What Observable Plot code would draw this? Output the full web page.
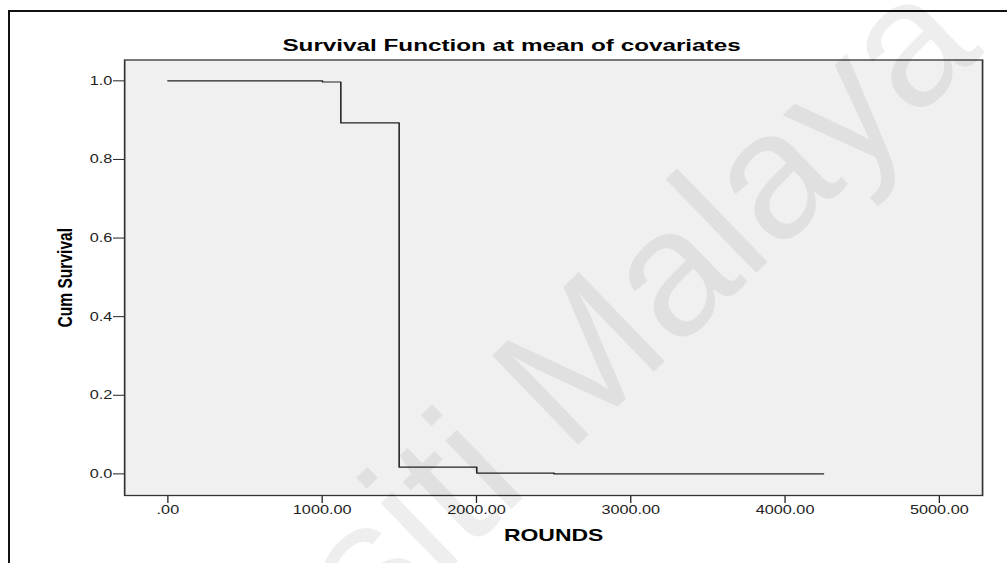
<!DOCTYPE html>
<html>
<head>
<meta charset="utf-8">
<script src="https://cdn.jsdelivr.net/npm/d3@7"></script>
<script src="https://cdn.jsdelivr.net/npm/@observablehq/plot@0.6"></script>
<style>
  body { margin: 0; background: #fff; }
  #chart { position: relative; width: 1007px; height: 563px; overflow: hidden;
           font-family: "Liberation Sans", Arial, sans-serif; }
  #chart svg.plot { position: absolute; left: 0; top: 0; }
  #border { position: absolute; left: 8px; top: 10px; width: 1100px; height: 700px;
            border-left: 2px solid #111; border-top: 2px solid #111; pointer-events: none; }
  #watermark { position: absolute; left: 0; top: 0; pointer-events: none; }
</style>
</head>
<body>
<div id="chart"><div id="border"></div></div>
<script>
// Survival estimate (Cox model, evaluated at mean of covariates)
const rounds       = [0, 1002, 1121, 1499, 2002, 2503, 4249];
const cumSurvival  = [1.0, 0.997, 0.893, 0.017, 0.002, 0.0, 0.0];

const xTicks = [0, 1000, 2000, 3000, 4000, 5000];
const yTicks = [0, 0.2, 0.4, 0.6, 0.8, 1.0];

const titleText = "Survival Function at mean of covariates";
const xLabel = "ROUNDS";
const yLabel = "Cum Survival";
const watermarkText = "Universiti Malaya";

const steps = rounds.map((r, i) => ({round: r, surv: cumSurvival[i]}));

// The chart is laid out in a narrower coordinate space and widened to the
// page width, giving the broad lettering of the exported figure.
const PAGE_W = 1007, H = 563;
const STRETCH = 1.3;
const W = PAGE_W / STRETCH;
const font = "'Liberation Sans', Arial, sans-serif";

const plot = Plot.plot({
  width: W,
  height: H,
  marginLeft: 95.4,
  marginRight: 19.3,
  marginTop: 59.5,
  marginBottom: 68,
  style: {background: "transparent", fontFamily: font, fontSize: "12.5px", color: "#222"},
  x: {
    domain: [-280, 5280],
    ticks: xTicks,
    tickFormat: d => d === 0 ? ".00" : d.toFixed(2),
    tickSize: 8,
    tickPadding: 2,
    label: null
  },
  y: {
    domain: [-0.055, 1.053],
    ticks: yTicks,
    tickFormat: d => d.toFixed(1),
    tickSize: 8.5,
    tickPadding: 1,
    label: null
  },
  marks: [
    Plot.frame({fill: "#f0f0f0", stroke: "none"}),
    Plot.line(steps, {x: "round", y: "surv", curve: "step-after", stroke: "#222", strokeWidth: 1.2}),
    Plot.frame({stroke: "#333", strokeWidth: 1.3}),
    Plot.text([titleText], {text: d => d, frameAnchor: "top", lineAnchor: "middle", textAnchor: "middle",
      dx: -32.4, dy: -13.8, fontSize: 16.5, fontWeight: "bold", fill: "#000", fontFamily: font}),
    Plot.text([xLabel], {text: d => d, frameAnchor: "bottom", lineAnchor: "middle", textAnchor: "middle",
      dx: 0, dy: 40.6, fontSize: 16, fontWeight: "bold", fill: "#000", fontFamily: font}),
    Plot.text([yLabel], {text: d => d, frameAnchor: "left", lineAnchor: "middle", textAnchor: "middle",
      rotate: -90, dx: -45.2, dy: 0, fontSize: 15.6, fontWeight: "bold", fill: "#000", fontFamily: font})
  ]
});

plot.classList.add("plot");
plot.setAttribute("viewBox", `0 0 ${W} ${H}`);
plot.setAttribute("preserveAspectRatio", "none");
plot.setAttribute("width", PAGE_W);
plot.setAttribute("height", H);
plot.style.width = PAGE_W + "px";
plot.style.height = H + "px";
plot.style.maxWidth = "none";

const chart = document.getElementById("chart");
chart.insertBefore(plot, chart.firstChild);

// Widen the heading and the x label a little further.
d3.select(plot).selectAll("text").each(function() {
  const t = this.textContent;
  if (t === titleText) {
    this.setAttribute("textLength", 352.5);
    this.setAttribute("lengthAdjust", "spacingAndGlyphs");
  } else if (t === xLabel) {
    this.setAttribute("textLength", 76.5);
    this.setAttribute("lengthAdjust", "spacingAndGlyphs");
  }
});

// Repository watermark across the page
const wm = d3.select(chart).append("svg")
  .attr("id", "watermark")
  .attr("width", PAGE_W).attr("height", H);
wm.append("text")
  .attr("x", 985).attr("y", 52)
  .attr("transform", "rotate(-44 985 52)")
  .attr("text-anchor", "end")
  .attr("font-family", font)
  .attr("font-size", 180)
  .attr("fill", "rgba(0,0,0,0.065)")
  .text(watermarkText);
</script>
</body>
</html>
